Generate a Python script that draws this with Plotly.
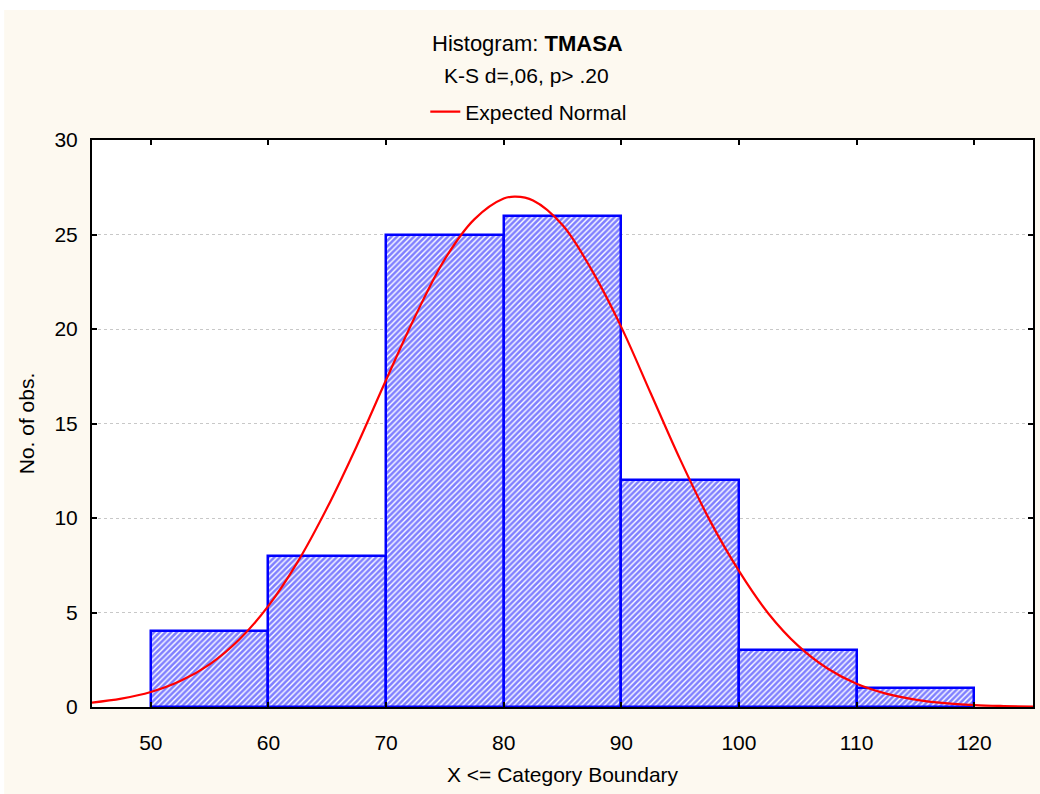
import plotly.graph_objects as go

# Histogram data (bin boundaries and counts)
bin_lower = [50, 60, 70, 80, 90, 100, 110]
bin_upper = [60, 70, 80, 90, 100, 110, 120]
counts = [4, 8, 25, 26, 12, 3, 1]

# Expected normal curve
curve_x = [45, 47.5, 50, 52.5, 55, 57.5, 60, 62.5, 65, 67.5, 70, 72.5, 75, 77.5,
           80, 81, 82.5, 85, 87.5, 90, 92.5, 95, 97.5, 100, 102.5, 105, 107.5,
           110, 112.5, 115, 117.5, 120, 122.5, 125]
curve_y = [0.23, 0.44, 0.79, 1.37, 2.26, 3.56, 5.35, 7.69, 10.55, 13.8, 17.3, 20.7,
           23.7, 25.8, 26.9, 27.0, 26.8, 25.5, 23.1, 20.1, 16.6, 13.1, 9.9, 7.2,
           4.95, 3.26, 2.05, 1.23, 0.71, 0.39, 0.20, 0.10, 0.05, 0.02]

x_ticks = [50, 60, 70, 80, 90, 100, 110, 120]
y_ticks = [0, 5, 10, 15, 20, 25, 30]

FONT = "Liberation Sans, Arial, sans-serif"
FS = 21
CREAM = "#FDF9F0"

# plot area in pixels: left 92, right 1035, top 140, bottom 707
PW, PH = 943, 567
def px_x(p):
    return (p - 92) / PW
def px_y(p):
    return (707 - p) / PH

centers = [(a + b) / 2 for a, b in zip(bin_lower, bin_upper)]
widths = [b - a for a, b in zip(bin_lower, bin_upper)]

fig = go.Figure()
fig.add_trace(go.Bar(
    x=centers, y=counts, width=widths, showlegend=False,
    marker=dict(color="white",
                line=dict(color="#0000FF", width=2.5),
                pattern=dict(shape="/", fgcolor="#0000FF", bgcolor="white",
                             size=4, solidity=0.65, fillmode="overlay")),
    hoverinfo="skip",
))
fig.add_trace(go.Scatter(
    x=curve_x, y=curve_y, mode="lines", name="Expected Normal",
    line=dict(color="#FF0000", width=2.2, shape="spline", smoothing=1.0),
))

fig.update_layout(
    width=1040, height=794,
    margin=dict(l=92, r=5, t=140, b=87),
    paper_bgcolor=CREAM, plot_bgcolor="white",
    font=dict(family=FONT, size=FS, color="black"),
    bargap=0,
    showlegend=True,
    legend=dict(orientation="h", x=px_x(426), xanchor="left", y=px_y(112),
                yanchor="middle", bgcolor="rgba(0,0,0,0)", font=dict(size=FS),
                itemwidth=30),
    annotations=[
        dict(text="Histogram: <b>TMASA</b>", xref="paper", yref="paper",
             x=px_x(528), y=px_y(43), xanchor="center", yanchor="middle",
             showarrow=False, font=dict(size=FS + 1)),
        dict(text="K-S d=,06, p> .20", xref="paper", yref="paper",
             x=px_x(527), y=px_y(75), xanchor="center", yanchor="middle",
             showarrow=False, font=dict(size=FS)),
    ],
    shapes=[
        dict(type="rect", xref="paper", yref="paper", x0=-0.1, x1=1.01,
             y0=px_y(10), y1=1.26, fillcolor="white", line=dict(width=0),
             layer="below"),
        dict(type="rect", xref="paper", yref="paper", x0=-0.1, x1=px_x(4),
             y0=-0.2, y1=1.26, fillcolor="white", line=dict(width=0),
             layer="below"),
    ],
)

fig.update_xaxes(
    range=[45, 125], tickvals=x_ticks, ticks="inside", ticklen=5, tickwidth=2,
    tickcolor="black", showline=True, linecolor="black", linewidth=2,
    mirror="ticks", showgrid=False, zeroline=False,
    ticklabelstandoff=16,
    title=dict(text="X <= Category Boundary", standoff=14, font=dict(size=FS)),
    tickfont=dict(size=FS),
)
fig.update_yaxes(
    range=[0, 30], tickvals=y_ticks, ticks="inside", ticklen=5, tickwidth=2,
    tickcolor="black", showline=True, linecolor="black", linewidth=2,
    mirror="ticks", showgrid=True, gridcolor="#C8C8C8", griddash="dot",
    gridwidth=1, zeroline=False,
    ticklabelstandoff=8,
    title=dict(text="No. of obs.", standoff=14, font=dict(size=FS)),
    tickfont=dict(size=FS),
)

fig.write_html(
    "out.html", config={"displayModeBar": False},
    post_script="document.body.style.margin='0px';"
                "document.body.style.overflow='hidden';"
                "document.documentElement.style.overflow='hidden';",
)
